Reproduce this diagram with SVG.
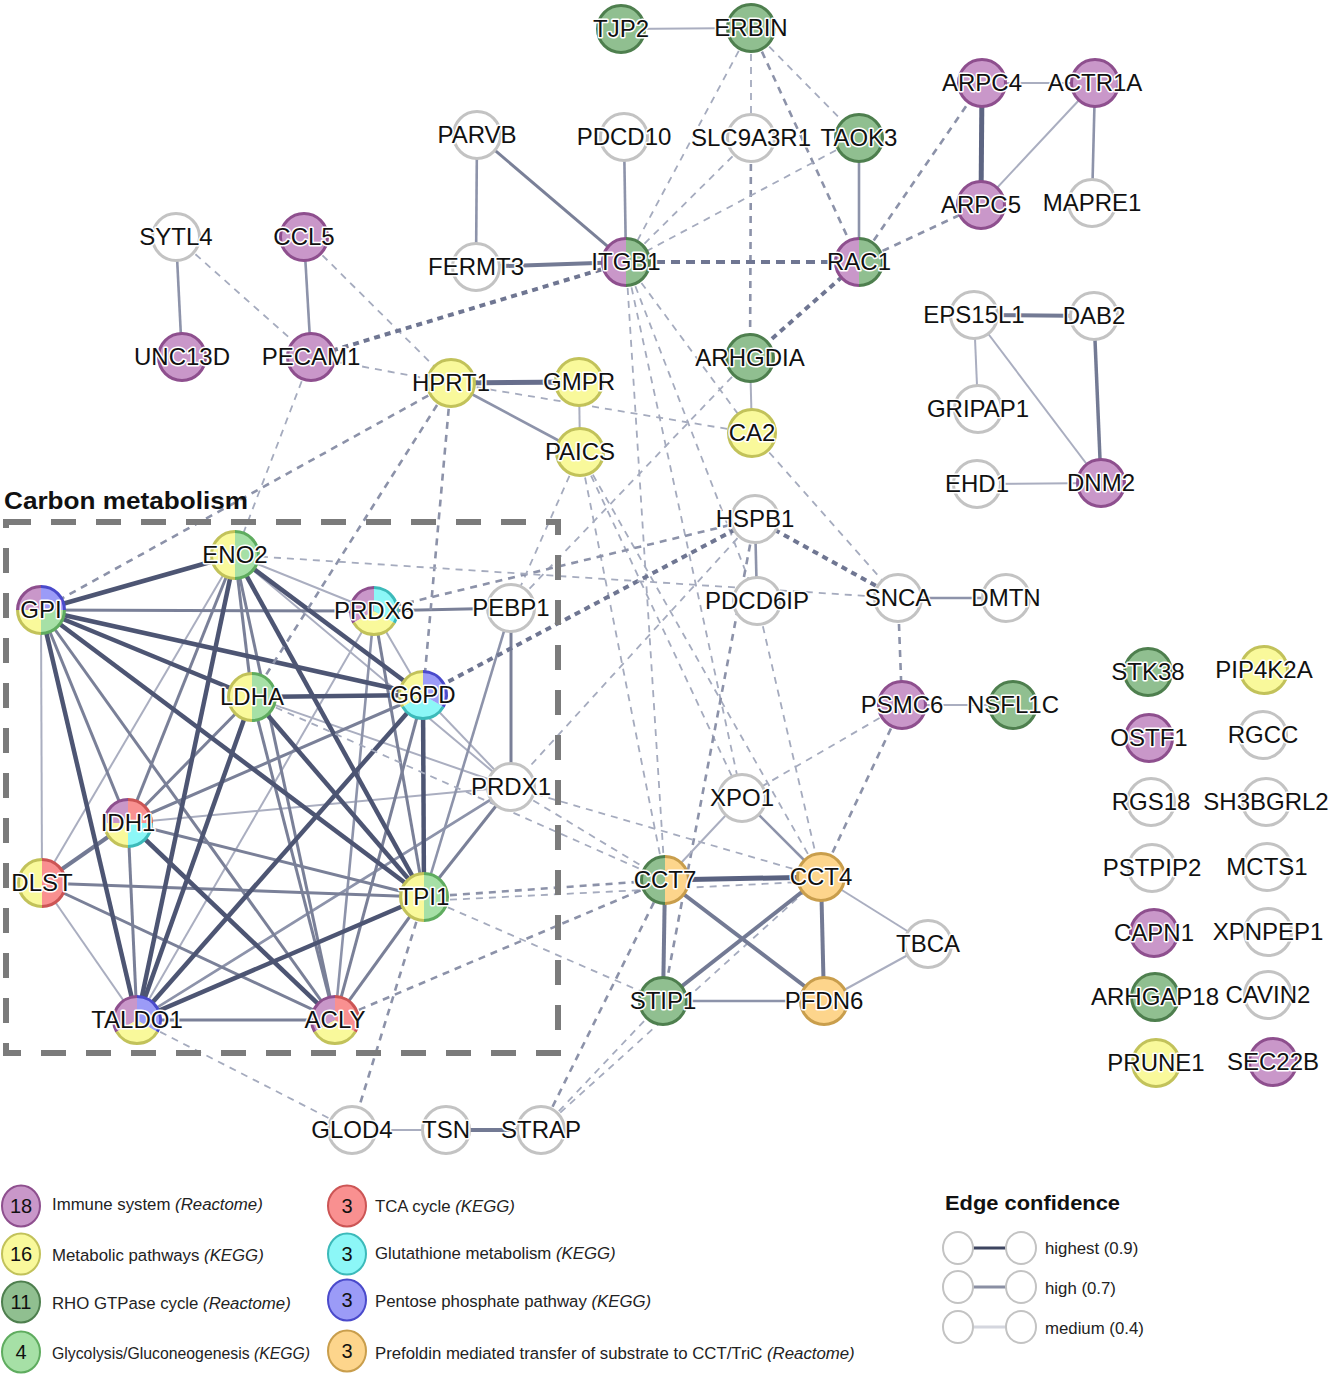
<svg xmlns="http://www.w3.org/2000/svg" xmlns:xlink="http://www.w3.org/1999/xlink" width="1333" height="1375" viewBox="0 0 1333 1375">
<style>
.bg{fill:#ffffff}
.e1{stroke:#4d5573;stroke-width:4.5;fill:none}
.e2{stroke:#7a8098;stroke-width:3;fill:none}
.e2t{stroke:#737a94;stroke-width:4;fill:none}
.e2b{stroke:#8d93aa;stroke-width:2.6;fill:none}
.e3{stroke:#aaaec0;stroke-width:2;fill:none}
.d1{stroke:#6f7692;stroke-width:4;stroke-dasharray:6 5;fill:none}
.d2{stroke:#8c92a9;stroke-width:2.6;stroke-dasharray:7 6;fill:none}
.d3{stroke:#a5abbe;stroke-width:1.8;stroke-dasharray:7 6;fill:none}
.box{fill:none;stroke:#7b7b7b;stroke-width:6;stroke-dasharray:25 20}
.arcp{fill:none;stroke-width:3}
.f-imm{fill:#c997c9}.s-imm{stroke:#8e4f8e}.c-imm{fill:#c997c9;stroke:#8e4f8e;stroke-width:3}
.f-met{fill:#f9f99b}.s-met{stroke:#c2c25a}.c-met{fill:#f9f99b;stroke:#c2c25a;stroke-width:3}
.f-rho{fill:#90bf90}.s-rho{stroke:#4e7f4e}.c-rho{fill:#90bf90;stroke:#4e7f4e;stroke-width:3}
.f-gly{fill:#a6e0a6}.s-gly{stroke:#5fac5f}.c-gly{fill:#a6e0a6;stroke:#5fac5f;stroke-width:3}
.f-tca{fill:#f99090}.s-tca{stroke:#cc5555}.c-tca{fill:#f99090;stroke:#cc5555;stroke-width:3}
.f-glu{fill:#8cf7f7}.s-glu{stroke:#3cbaba}.c-glu{fill:#8cf7f7;stroke:#3cbaba;stroke-width:3}
.f-pen{fill:#9b9bf7}.s-pen{stroke:#4a4acb}.c-pen{fill:#9b9bf7;stroke:#4a4acb;stroke-width:3}
.f-pre{fill:#fdd58c}.s-pre{stroke:#c99e4c}.c-pre{fill:#fdd58c;stroke:#c99e4c;stroke-width:3}
.c-non{fill:#ffffff;stroke:#c3c3c3;stroke-width:3}
.node text{font-family:"Liberation Sans",Arial,sans-serif;font-size:24px;fill:#111;text-anchor:middle;stroke:#ffffff;stroke-width:3;stroke-linejoin:round;paint-order:stroke}
.title{font-family:"Liberation Sans",Arial,sans-serif;font-weight:bold;fill:#111}
.lg{font-family:"Liberation Sans",Arial,sans-serif;font-size:16.8px;fill:#222}
.lgn{font-family:"Liberation Sans",Arial,sans-serif;font-size:20px;fill:#111;text-anchor:middle}
.it{font-style:italic}
.lc{fill:#ffffff;stroke:#c3c3c3;stroke-width:2}
</style>
<defs>
<path id="hl" d="M0,-23.5 A23.5,23.5 0 0 0 0,23.5 Z"/>
<path id="hr" d="M0,-23.5 A23.5,23.5 0 0 1 0,23.5 Z"/>
<path id="ahl" class="arcp" d="M0,-23.5 A23.5,23.5 0 0 0 0,23.5"/>
<path id="ahr" class="arcp" d="M0,-23.5 A23.5,23.5 0 0 1 0,23.5"/>
<path id="qtl" d="M0,0 L0,-23.5 A23.5,23.5 0 0 0 -23.5,0 Z"/>
<path id="qtr" d="M0,0 L0,-23.5 A23.5,23.5 0 0 1 23.5,0 Z"/>
<path id="qbr" d="M0,0 L23.5,0 A23.5,23.5 0 0 1 0,23.5 Z"/>
<path id="qbl" d="M0,0 L0,23.5 A23.5,23.5 0 0 1 -23.5,0 Z"/>
<path id="aqtl" class="arcp" d="M0,-23.5 A23.5,23.5 0 0 0 -23.5,0"/>
<path id="aqtr" class="arcp" d="M0,-23.5 A23.5,23.5 0 0 1 23.5,0"/>
<path id="aqbr" class="arcp" d="M23.5,0 A23.5,23.5 0 0 1 0,23.5"/>
<path id="aqbl" class="arcp" d="M0,23.5 A23.5,23.5 0 0 1 -23.5,0"/>
<path id="t1" d="M0,0 L0,-23.5 A23.5,23.5 0 0 0 -20.35,11.75 Z"/>
<path id="t2" d="M0,0 L-20.35,11.75 A23.5,23.5 0 0 0 20.35,11.75 Z"/>
<path id="t3" d="M0,0 L20.35,11.75 A23.5,23.5 0 0 0 0,-23.5 Z"/>
<path id="at1" class="arcp" d="M0,-23.5 A23.5,23.5 0 0 0 -20.35,11.75"/>
<path id="at2" class="arcp" d="M-20.35,11.75 A23.5,23.5 0 0 0 20.35,11.75"/>
<path id="at3" class="arcp" d="M20.35,11.75 A23.5,23.5 0 0 0 0,-23.5"/>
</defs>
<rect class="bg" x="0" y="0" width="1333" height="1375"/>

<g id="connectors">
<line class="e3" x1="41" y1="610" x2="42" y2="883"/>
<line class="e3" x1="235" y1="555" x2="42" y2="883"/>
<line class="e3" x1="235" y1="555" x2="511" y2="787"/>
<line class="e3" x1="235" y1="555" x2="374" y2="611"/>
<line class="e3" x1="252" y1="697" x2="511" y2="787"/>
<line class="e3" x1="423" y1="695" x2="511" y2="787"/>
<line class="e3" x1="423" y1="695" x2="374" y2="611"/>
<line class="e3" x1="128" y1="823" x2="511" y2="787"/>
<line class="e3" x1="42" y1="883" x2="137" y2="1020"/>
<line class="e3" x1="137" y1="1020" x2="374" y2="611"/>
<line class="e2b" x1="137" y1="1020" x2="511" y2="787"/>
<line class="e2b" x1="335" y1="1020" x2="374" y2="611"/>
<line class="e2b" x1="424" y1="897" x2="511" y2="608"/>
<line class="e2" x1="41" y1="610" x2="374" y2="611"/>
<line class="e2" x1="41" y1="610" x2="128" y2="823"/>
<line class="e2" x1="41" y1="610" x2="335" y2="1020"/>
<line class="e2" x1="235" y1="555" x2="252" y2="697"/>
<line class="e2" x1="235" y1="555" x2="128" y2="823"/>
<line class="e2" x1="235" y1="555" x2="335" y2="1020"/>
<line class="e2" x1="252" y1="697" x2="128" y2="823"/>
<line class="e2" x1="252" y1="697" x2="335" y2="1020"/>
<line class="e2" x1="423" y1="695" x2="128" y2="823"/>
<line class="e2" x1="423" y1="695" x2="335" y2="1020"/>
<line class="e2t" x1="128" y1="823" x2="42" y2="883"/>
<line class="e2" x1="128" y1="823" x2="424" y2="897"/>
<line class="e2" x1="128" y1="823" x2="137" y2="1020"/>
<line class="e2" x1="42" y1="883" x2="424" y2="897"/>
<line class="e2" x1="42" y1="883" x2="335" y2="1020"/>
<line class="e2" x1="424" y1="897" x2="335" y2="1020"/>
<line class="e2" x1="424" y1="897" x2="511" y2="787"/>
<line class="e2" x1="424" y1="897" x2="374" y2="611"/>
<line class="e2" x1="137" y1="1020" x2="335" y2="1020"/>
<line class="e2" x1="374" y1="611" x2="511" y2="608"/>
<line class="e2" x1="511" y1="608" x2="511" y2="787"/>
<line class="e1" x1="41" y1="610" x2="235" y2="555"/>
<line class="e1" x1="41" y1="610" x2="423" y2="695"/>
<line class="e1" x1="41" y1="610" x2="252" y2="697"/>
<line class="e1" x1="41" y1="610" x2="424" y2="897"/>
<line class="e1" x1="41" y1="610" x2="137" y2="1020"/>
<line class="e1" x1="235" y1="555" x2="423" y2="695"/>
<line class="e1" x1="235" y1="555" x2="424" y2="897"/>
<line class="e1" x1="235" y1="555" x2="137" y2="1020"/>
<line class="e1" x1="252" y1="697" x2="423" y2="695"/>
<line class="e1" x1="252" y1="697" x2="424" y2="897"/>
<line class="e1" x1="252" y1="697" x2="137" y2="1020"/>
<line class="e1" x1="423" y1="695" x2="424" y2="897"/>
<line class="e1" x1="423" y1="695" x2="137" y2="1020"/>
<line class="e1" x1="128" y1="823" x2="335" y2="1020"/>
<line class="e1" x1="424" y1="897" x2="137" y2="1020"/>

<line class="d3" x1="751" y1="28" x2="626" y2="262"/>
<line class="d3" x1="751" y1="28" x2="751" y2="138"/>
<line class="d2" x1="751" y1="138" x2="750" y2="358"/>
<line class="d2" x1="751" y1="28" x2="859" y2="262"/>
<line class="d3" x1="751" y1="28" x2="859" y2="138"/>
<line class="d3" x1="751" y1="138" x2="626" y2="262"/>
<line class="d3" x1="859" y1="138" x2="626" y2="262"/>
<line class="d1" x1="626" y1="262" x2="859" y2="262" style="stroke-dasharray:9 6"/>
<line class="d1" x1="859" y1="262" x2="750" y2="358"/>
<line class="d2" x1="859" y1="262" x2="982" y2="83"/>
<line class="d2" x1="859" y1="262" x2="981" y2="205"/>
<line class="d3" x1="176" y1="237" x2="311" y2="357"/>
<line class="d3" x1="304" y1="237" x2="451" y2="383"/>
<line class="d1" x1="311" y1="357" x2="626" y2="262"/>
<line class="d3" x1="311" y1="357" x2="451" y2="383"/>
<line class="d3" x1="311" y1="357" x2="235" y2="555"/>
<line class="d2" x1="451" y1="383" x2="41" y2="610"/>
<line class="d2" x1="451" y1="383" x2="252" y2="697"/>
<line class="d2" x1="451" y1="383" x2="423" y2="695"/>
<line class="d3" x1="451" y1="383" x2="752" y2="433"/>
<line class="d3" x1="626" y1="262" x2="665" y2="880"/>
<line class="d3" x1="626" y1="262" x2="742" y2="798"/>
<line class="d3" x1="626" y1="262" x2="757" y2="601"/>
<line class="d3" x1="626" y1="262" x2="752" y2="433"/>
<line class="d3" x1="580" y1="452" x2="511" y2="608"/>
<line class="d3" x1="580" y1="452" x2="665" y2="880"/>
<line class="d3" x1="580" y1="452" x2="821" y2="877"/>
<line class="d3" x1="580" y1="452" x2="742" y2="798"/>
<line class="d3" x1="752" y1="433" x2="898" y2="598"/>
<line class="d3" x1="750" y1="358" x2="511" y2="608"/>
<line class="d1" x1="755" y1="519" x2="898" y2="598"/>
<line class="d1" x1="755" y1="519" x2="423" y2="695"/>
<line class="d2" x1="755" y1="519" x2="374" y2="611"/>
<line class="d3" x1="755" y1="519" x2="511" y2="787"/>
<line class="d2" x1="755" y1="519" x2="663" y2="1001"/>
<line class="d3" x1="235" y1="555" x2="898" y2="598"/>
<line class="d3" x1="757" y1="601" x2="821" y2="877"/>
<line class="d2" x1="898" y1="598" x2="902" y2="705"/>
<line class="d3" x1="902" y1="705" x2="742" y2="798"/>
<line class="d2" x1="902" y1="705" x2="821" y2="877"/>
<line class="d2" x1="424" y1="897" x2="665" y2="880"/>
<line class="d3" x1="424" y1="901" x2="821" y2="881"/>
<line class="d3" x1="511" y1="787" x2="821" y2="877"/>
<line class="d3" x1="511" y1="787" x2="665" y2="880"/>
<line class="d3" x1="252" y1="697" x2="665" y2="880"/>
<line class="d3" x1="424" y1="897" x2="663" y2="1001"/>
<line class="d2" x1="335" y1="1020" x2="665" y2="880"/>
<line class="d3" x1="137" y1="1020" x2="352" y2="1130"/>
<line class="d2" x1="424" y1="897" x2="352" y2="1130"/>
<line class="d2" x1="541" y1="1130" x2="665" y2="880"/>
<line class="d3" x1="541" y1="1130" x2="663" y2="1001"/>
<line class="d3" x1="541" y1="1130" x2="821" y2="877"/>

<line class="e3" x1="621" y1="29" x2="751" y2="28"/>
<line class="e2b" x1="859" y1="138" x2="859" y2="262"/>
<line class="e2b" x1="477" y1="135" x2="476" y2="267"/>
<line class="e2" x1="477" y1="135" x2="626" y2="262"/>
<line class="e2b" x1="624" y1="137" x2="626" y2="262"/>
<line class="e2t" x1="476" y1="267" x2="626" y2="262"/>
<line class="e3" x1="982" y1="83" x2="1095" y2="83"/>
<line class="e1" x1="982" y1="83" x2="981" y2="205" style="stroke:#5d6582;stroke-width:5"/>
<line class="e3" x1="1095" y1="83" x2="981" y2="205"/>
<line class="e2b" x1="1095" y1="83" x2="1092" y2="203"/>
<line class="e2t" x1="974" y1="315" x2="1094" y2="316"/>
<line class="e3" x1="974" y1="315" x2="978" y2="409"/>
<line class="e3" x1="974" y1="315" x2="1101" y2="483"/>
<line class="e2t" x1="1094" y1="316" x2="1101" y2="483" style="stroke-width:3.5"/>
<line class="e3" x1="977" y1="484" x2="1101" y2="483"/>
<line class="e2b" x1="176" y1="237" x2="182" y2="357"/>
<line class="e2b" x1="304" y1="237" x2="311" y2="357"/>
<line class="e1" x1="451" y1="383" x2="579" y2="382" style="stroke:#676e8c;stroke-width:5"/>
<line class="e2b" x1="451" y1="383" x2="580" y2="452"/>
<line class="e3" x1="579" y1="382" x2="580" y2="452"/>
<line class="e3" x1="750" y1="358" x2="752" y2="433"/>
<line class="e2b" x1="755" y1="519" x2="757" y2="601"/>
<line class="e2b" x1="898" y1="598" x2="1006" y2="598"/>
<line class="e3" x1="902" y1="705" x2="1013" y2="705"/>
<line class="e3" x1="742" y1="798" x2="665" y2="880"/>
<line class="e2b" x1="742" y1="798" x2="821" y2="877"/>
<line class="e1" x1="665" y1="880" x2="821" y2="877" style="stroke:#5a6280;stroke-width:5"/>
<line class="e2t" x1="665" y1="880" x2="663" y2="1001"/>
<line class="e2t" x1="665" y1="880" x2="824" y2="1001"/>
<line class="e2t" x1="821" y1="877" x2="663" y2="1001"/>
<line class="e2t" x1="821" y1="877" x2="824" y2="1001"/>
<line class="e3" x1="821" y1="877" x2="928" y2="944"/>
<line class="e2b" x1="663" y1="1001" x2="824" y2="1001"/>
<line class="e3" x1="824" y1="1001" x2="928" y2="944"/>
<line class="e3" x1="352" y1="1130" x2="446" y2="1130"/>
<line class="e2t" x1="446" y1="1130" x2="541" y2="1130"/>
</g>

<g id="carbon-metabolism-box">
<rect class="box" x="6" y="522" width="552" height="531"/>
<text class="title" x="4" y="509" font-size="24" textLength="244" lengthAdjust="spacingAndGlyphs">Carbon metabolism</text>
</g>

<g id="nodes">
<g id="node-TJP2" class="node" transform="translate(621,29)"><circle r="23.5" class="c-rho"/><text y="8">TJP2</text></g>
<g id="node-ERBIN" class="node" transform="translate(751,28)"><circle r="23.5" class="c-rho"/><text y="8">ERBIN</text></g>
<g id="node-PARVB" class="node" transform="translate(477,135)"><circle r="23.5" class="c-non"/><text y="8">PARVB</text></g>
<g id="node-PDCD10" class="node" transform="translate(624,137)"><circle r="23.5" class="c-non"/><text y="8">PDCD10</text></g>
<g id="node-SLC9A3R1" class="node" transform="translate(751,138)"><circle r="23.5" class="c-non"/><text y="8">SLC9A3R1</text></g>
<g id="node-TAOK3" class="node" transform="translate(859,138)"><circle r="23.5" class="c-rho"/><text y="8">TAOK3</text></g>
<g id="node-ARPC4" class="node" transform="translate(982,83)"><circle r="23.5" class="c-imm"/><text y="8">ARPC4</text></g>
<g id="node-ACTR1A" class="node" transform="translate(1095,83)"><circle r="23.5" class="c-imm"/><text y="8">ACTR1A</text></g>
<g id="node-ARPC5" class="node" transform="translate(981,205)"><circle r="23.5" class="c-imm"/><text y="8">ARPC5</text></g>
<g id="node-MAPRE1" class="node" transform="translate(1092,203)"><circle r="23.5" class="c-non"/><text y="8">MAPRE1</text></g>
<g id="node-SYTL4" class="node" transform="translate(176,237)"><circle r="23.5" class="c-non"/><text y="8">SYTL4</text></g>
<g id="node-CCL5" class="node" transform="translate(304,237)"><circle r="23.5" class="c-imm"/><text y="8">CCL5</text></g>
<g id="node-FERMT3" class="node" transform="translate(476,267)"><circle r="23.5" class="c-non"/><text y="8">FERMT3</text></g>
<g id="node-ITGB1" class="node" transform="translate(626,262)"><use href="#hl" class="f-imm"/><use href="#hr" class="f-rho"/><use href="#ahl" class="s-imm"/><use href="#ahr" class="s-rho"/><text y="8">ITGB1</text></g>
<g id="node-RAC1" class="node" transform="translate(859,262)"><use href="#hl" class="f-imm"/><use href="#hr" class="f-rho"/><use href="#ahl" class="s-imm"/><use href="#ahr" class="s-rho"/><text y="8">RAC1</text></g>
<g id="node-UNC13D" class="node" transform="translate(182,357)"><circle r="23.5" class="c-imm"/><text y="8">UNC13D</text></g>
<g id="node-PECAM1" class="node" transform="translate(311,357)"><circle r="23.5" class="c-imm"/><text y="8">PECAM1</text></g>
<g id="node-EPS15L1" class="node" transform="translate(974,315)"><circle r="23.5" class="c-non"/><text y="8">EPS15L1</text></g>
<g id="node-DAB2" class="node" transform="translate(1094,316)"><circle r="23.5" class="c-non"/><text y="8">DAB2</text></g>
<g id="node-HPRT1" class="node" transform="translate(451,383)"><circle r="23.5" class="c-met"/><text y="8">HPRT1</text></g>
<g id="node-GMPR" class="node" transform="translate(579,382)"><circle r="23.5" class="c-met"/><text y="8">GMPR</text></g>
<g id="node-ARHGDIA" class="node" transform="translate(750,358)"><circle r="23.5" class="c-rho"/><text y="8">ARHGDIA</text></g>
<g id="node-GRIPAP1" class="node" transform="translate(978,409)"><circle r="23.5" class="c-non"/><text y="8">GRIPAP1</text></g>
<g id="node-PAICS" class="node" transform="translate(580,452)"><circle r="23.5" class="c-met"/><text y="8">PAICS</text></g>
<g id="node-CA2" class="node" transform="translate(752,433)"><circle r="23.5" class="c-met"/><text y="8">CA2</text></g>
<g id="node-EHD1" class="node" transform="translate(977,484)"><circle r="23.5" class="c-non"/><text y="8">EHD1</text></g>
<g id="node-DNM2" class="node" transform="translate(1101,483)"><circle r="23.5" class="c-imm"/><text y="8">DNM2</text></g>
<g id="node-HSPB1" class="node" transform="translate(755,519)"><circle r="23.5" class="c-non"/><text y="8">HSPB1</text></g>
<g id="node-ENO2" class="node" transform="translate(235,555)"><use href="#hl" class="f-met"/><use href="#hr" class="f-gly"/><use href="#ahl" class="s-met"/><use href="#ahr" class="s-gly"/><text y="8">ENO2</text></g>
<g id="node-GPI" class="node" transform="translate(41,610)"><use href="#qtl" class="f-imm"/><use href="#qtr" class="f-pen"/><use href="#qbr" class="f-gly"/><use href="#qbl" class="f-met"/><use href="#aqtl" class="s-imm"/><use href="#aqtr" class="s-pen"/><use href="#aqbr" class="s-gly"/><use href="#aqbl" class="s-met"/><text y="8">GPI</text></g>
<g id="node-PRDX6" class="node" transform="translate(374,611)"><use href="#t1" class="f-imm"/><use href="#t2" class="f-met"/><use href="#t3" class="f-glu"/><use href="#at1" class="s-imm"/><use href="#at2" class="s-met"/><use href="#at3" class="s-glu"/><text y="8">PRDX6</text></g>
<g id="node-PEBP1" class="node" transform="translate(511,608)"><circle r="23.5" class="c-non"/><text y="8">PEBP1</text></g>
<g id="node-PDCD6IP" class="node" transform="translate(757,601)"><circle r="23.5" class="c-non"/><text y="8">PDCD6IP</text></g>
<g id="node-SNCA" class="node" transform="translate(898,598)"><circle r="23.5" class="c-non"/><text y="8">SNCA</text></g>
<g id="node-DMTN" class="node" transform="translate(1006,598)"><circle r="23.5" class="c-non"/><text y="8">DMTN</text></g>
<g id="node-LDHA" class="node" transform="translate(252,697)"><use href="#hl" class="f-met"/><use href="#hr" class="f-gly"/><use href="#ahl" class="s-met"/><use href="#ahr" class="s-gly"/><text y="8">LDHA</text></g>
<g id="node-G6PD" class="node" transform="translate(423,695)"><use href="#t1" class="f-met"/><use href="#t2" class="f-glu"/><use href="#t3" class="f-pen"/><use href="#at1" class="s-met"/><use href="#at2" class="s-glu"/><use href="#at3" class="s-pen"/><text y="8">G6PD</text></g>
<g id="node-PSMC6" class="node" transform="translate(902,705)"><circle r="23.5" class="c-imm"/><text y="8">PSMC6</text></g>
<g id="node-NSFL1C" class="node" transform="translate(1013,705)"><circle r="23.5" class="c-rho"/><text y="8">NSFL1C</text></g>
<g id="node-STK38" class="node" transform="translate(1148,672)"><circle r="23.5" class="c-rho"/><text y="8">STK38</text></g>
<g id="node-PIP4K2A" class="node" transform="translate(1264,670)"><circle r="23.5" class="c-met"/><text y="8">PIP4K2A</text></g>
<g id="node-OSTF1" class="node" transform="translate(1149,738)"><circle r="23.5" class="c-imm"/><text y="8">OSTF1</text></g>
<g id="node-RGCC" class="node" transform="translate(1263,735)"><circle r="23.5" class="c-non"/><text y="8">RGCC</text></g>
<g id="node-PRDX1" class="node" transform="translate(511,787)"><circle r="23.5" class="c-non"/><text y="8">PRDX1</text></g>
<g id="node-XPO1" class="node" transform="translate(742,798)"><circle r="23.5" class="c-non"/><text y="8">XPO1</text></g>
<g id="node-RGS18" class="node" transform="translate(1151,802)"><circle r="23.5" class="c-non"/><text y="8">RGS18</text></g>
<g id="node-SH3BGRL2" class="node" transform="translate(1266,802)"><circle r="23.5" class="c-non"/><text y="8">SH3BGRL2</text></g>
<g id="node-IDH1" class="node" transform="translate(128,823)"><use href="#qtl" class="f-imm"/><use href="#qtr" class="f-tca"/><use href="#qbr" class="f-glu"/><use href="#qbl" class="f-met"/><use href="#aqtl" class="s-imm"/><use href="#aqtr" class="s-tca"/><use href="#aqbr" class="s-glu"/><use href="#aqbl" class="s-met"/><text y="8">IDH1</text></g>
<g id="node-DLST" class="node" transform="translate(42,883)"><use href="#hl" class="f-met"/><use href="#hr" class="f-tca"/><use href="#ahl" class="s-met"/><use href="#ahr" class="s-tca"/><text y="8">DLST</text></g>
<g id="node-CCT7" class="node" transform="translate(665,880)"><use href="#hl" class="f-rho"/><use href="#hr" class="f-pre"/><use href="#ahl" class="s-rho"/><use href="#ahr" class="s-pre"/><text y="8">CCT7</text></g>
<g id="node-CCT4" class="node" transform="translate(821,877)"><circle r="23.5" class="c-pre"/><text y="8">CCT4</text></g>
<g id="node-TPI1" class="node" transform="translate(424,897)"><use href="#hl" class="f-met"/><use href="#hr" class="f-gly"/><use href="#ahl" class="s-met"/><use href="#ahr" class="s-gly"/><text y="8">TPI1</text></g>
<g id="node-PSTPIP2" class="node" transform="translate(1152,868)"><circle r="23.5" class="c-non"/><text y="8">PSTPIP2</text></g>
<g id="node-MCTS1" class="node" transform="translate(1267,867)"><circle r="23.5" class="c-non"/><text y="8">MCTS1</text></g>
<g id="node-TBCA" class="node" transform="translate(928,944)"><circle r="23.5" class="c-non"/><text y="8">TBCA</text></g>
<g id="node-CAPN1" class="node" transform="translate(1154,933)"><circle r="23.5" class="c-imm"/><text y="8">CAPN1</text></g>
<g id="node-XPNPEP1" class="node" transform="translate(1268,932)"><circle r="23.5" class="c-non"/><text y="8">XPNPEP1</text></g>
<g id="node-STIP1" class="node" transform="translate(663,1001)"><circle r="23.5" class="c-rho"/><text y="8">STIP1</text></g>
<g id="node-PFDN6" class="node" transform="translate(824,1001)"><circle r="23.5" class="c-pre"/><text y="8">PFDN6</text></g>
<g id="node-TALDO1" class="node" transform="translate(137,1020)"><use href="#t1" class="f-imm"/><use href="#t2" class="f-met"/><use href="#t3" class="f-pen"/><use href="#at1" class="s-imm"/><use href="#at2" class="s-met"/><use href="#at3" class="s-pen"/><text y="8">TALDO1</text></g>
<g id="node-ACLY" class="node" transform="translate(335,1020)"><use href="#t1" class="f-imm"/><use href="#t2" class="f-met"/><use href="#t3" class="f-tca"/><use href="#at1" class="s-imm"/><use href="#at2" class="s-met"/><use href="#at3" class="s-tca"/><text y="8">ACLY</text></g>
<g id="node-ARHGAP18" class="node" transform="translate(1155,997)"><circle r="23.5" class="c-rho"/><text y="8">ARHGAP18</text></g>
<g id="node-CAVIN2" class="node" transform="translate(1268,995)"><circle r="23.5" class="c-non"/><text y="8">CAVIN2</text></g>
<g id="node-PRUNE1" class="node" transform="translate(1156,1063)"><circle r="23.5" class="c-met"/><text y="8">PRUNE1</text></g>
<g id="node-SEC22B" class="node" transform="translate(1273,1062)"><circle r="23.5" class="c-imm"/><text y="8">SEC22B</text></g>
<g id="node-GLOD4" class="node" transform="translate(352,1130)"><circle r="23.5" class="c-non"/><text y="8">GLOD4</text></g>
<g id="node-TSN" class="node" transform="translate(446,1130)"><circle r="23.5" class="c-non"/><text y="8">TSN</text></g>
<g id="node-STRAP" class="node" transform="translate(541,1130)"><circle r="23.5" class="c-non"/><text y="8">STRAP</text></g>
</g>

<g id="legend-categories">
<ellipse cx="21" cy="1206" rx="19" ry="20.5" class="c-imm" style="stroke-width:2"/><text class="lgn" x="21" y="1213">18</text>
<text class="lg" x="52" y="1210">Immune system <tspan class="it">(Reactome)</tspan></text>
<ellipse cx="21" cy="1254" rx="19" ry="20.5" class="c-met" style="stroke-width:2"/><text class="lgn" x="21" y="1261">16</text>
<text class="lg" x="52" y="1261">Metabolic pathways <tspan class="it">(KEGG)</tspan></text>
<ellipse cx="21" cy="1302" rx="19" ry="20.5" class="c-rho" style="stroke-width:2"/><text class="lgn" x="21" y="1309">11</text>
<text class="lg" x="52" y="1309">RHO GTPase cycle <tspan class="it">(Reactome)</tspan></text>
<ellipse cx="21" cy="1352" rx="19" ry="20.5" class="c-gly" style="stroke-width:2"/><text class="lgn" x="21" y="1359">4</text>
<text class="lg" x="52" y="1359" style="font-size:15.8px">Glycolysis/Gluconeogenesis <tspan class="it">(KEGG)</tspan></text>
<ellipse cx="347" cy="1206" rx="19" ry="20.5" class="c-tca" style="stroke-width:2"/><text class="lgn" x="347" y="1213">3</text>
<text class="lg" x="375" y="1212">TCA cycle <tspan class="it">(KEGG)</tspan></text>
<ellipse cx="347" cy="1254" rx="19" ry="20.5" class="c-glu" style="stroke-width:2"/><text class="lgn" x="347" y="1261">3</text>
<text class="lg" x="375" y="1259">Glutathione metabolism <tspan class="it">(KEGG)</tspan></text>
<ellipse cx="347" cy="1300" rx="19" ry="20.5" class="c-pen" style="stroke-width:2"/><text class="lgn" x="347" y="1307">3</text>
<text class="lg" x="375" y="1307">Pentose phosphate pathway <tspan class="it">(KEGG)</tspan></text>
<ellipse cx="347" cy="1351" rx="19" ry="20.5" class="c-pre" style="stroke-width:2"/><text class="lgn" x="347" y="1358">3</text>
<text class="lg" x="375" y="1359">Prefoldin mediated transfer of substrate to CCT/TriC <tspan class="it">(Reactome)</tspan></text>
</g>

<g id="legend-edge-confidence">
<text class="title" x="945" y="1210" font-size="21" textLength="175" lengthAdjust="spacingAndGlyphs">Edge confidence</text>
<line x1="973" y1="1248" x2="1006" y2="1248" stroke="#3d4560" stroke-width="3"/>
<ellipse class="lc" cx="958" cy="1248" rx="15" ry="16"/><ellipse class="lc" cx="1021" cy="1248" rx="15" ry="16"/>
<text class="lg" x="1045" y="1254">highest (0.9)</text>
<line x1="973" y1="1287" x2="1006" y2="1287" stroke="#8a8fa3" stroke-width="3"/>
<ellipse class="lc" cx="958" cy="1287" rx="15" ry="16"/><ellipse class="lc" cx="1021" cy="1287" rx="15" ry="16"/>
<text class="lg" x="1045" y="1294">high (0.7)</text>
<line x1="973" y1="1327" x2="1006" y2="1327" stroke="#d4d6de" stroke-width="3"/>
<ellipse class="lc" cx="958" cy="1327" rx="15" ry="16"/><ellipse class="lc" cx="1021" cy="1327" rx="15" ry="16"/>
<text class="lg" x="1045" y="1334">medium (0.4)</text>
</g>
</svg>
